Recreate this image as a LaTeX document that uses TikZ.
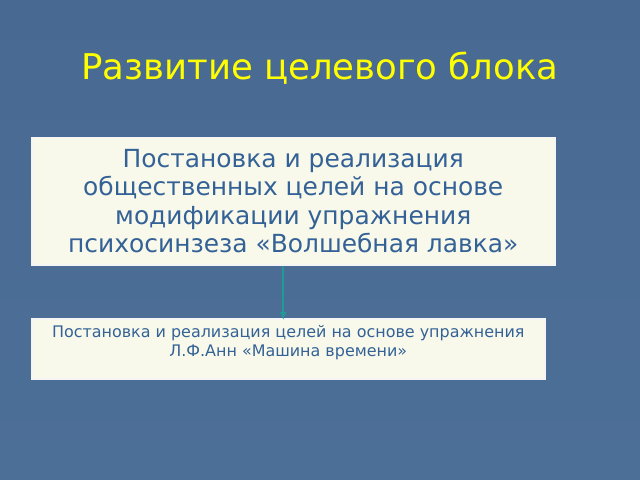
\documentclass[tikz,border=0pt]{standalone}
\usepackage{fontspec}
\setmainfont{DejaVu Sans}
\usetikzlibrary{arrows.meta}
\definecolor{slidebg}{RGB}{72,105,146}
\definecolor{slidebgb}{RGB}{76,111,152}
\definecolor{titleyel}{RGB}{255,255,0}
\definecolor{boxfill}{RGB}{248,249,235}
\definecolor{boxtext}{RGB}{52,98,150}
\definecolor{arrowteal}{RGB}{30,155,150}
\tikzset{
  goalbox/.style={draw=white!92!gray, line width=1.5bp, fill=boxfill, inner sep=0pt},
  goaltext/.style={text=boxtext, align=center, inner sep=0pt},
  goalarrow/.style={draw=arrowteal, fill=arrowteal, line width=1.6bp, -{Latex[length=8bp,width=7bp]}}
}
\begin{document}
\begin{tikzpicture}[x=1bp,y=-1bp]
  \fill[top color=slidebg, bottom color=slidebgb] (0,0) rectangle (640,480);
  \useasboundingbox (0,0) rectangle (640,480);
  \node[text=titleyel, font=\fontsize{35.6}{40}\selectfont] (title) at (320,68) {Развитие целевого блока};
  % upper block
  \node[goalbox, minimum width=523bp, minimum height=127bp, anchor=north west] (box1) at (31,137) {};
  \node[goaltext, font=\fontsize{25}{28.5}\selectfont] (text1) at (box1.center)
    {Постановка и реализация\\общественных целей на основе\hspace*{7bp}\\модификации упражнения\\психосинзеза «Волшебная лавка»};
  % lower block
  \node[goalbox, minimum width=513bp, minimum height=60bp, anchor=north west] (box2) at (31,318) {};
  \node[goaltext, font=\fontsize{16}{19}\selectfont, anchor=north] (text2) at ([yshift=-7bp]box2.north)
    {Постановка и реализация целей на основе упражнения\\Л.Ф.Анн «Машина времени»};
  \draw[goalarrow] ([xshift=-10bp]box1.south) -- ([xshift=-10bp,yshift=-2bp]box1.south |- box2.north);
\end{tikzpicture}
\end{document}
